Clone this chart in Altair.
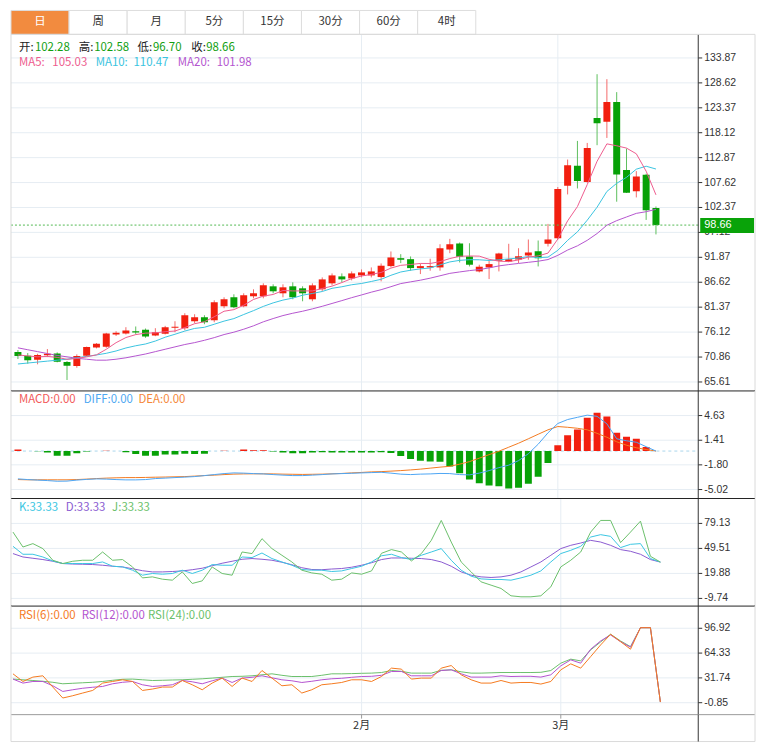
import altair as alt
import pandas as pd

# ---------------- data ----------------
tabs = ["日", "周", "月", "5分", "15分", "30分", "60分", "4时"]
month_pos = [35, 55]
month_labels = ["2月", "3月"]

opens = [71.91, 71.13, 70.29, 71.22, 71.63, 69.81, 68.97, 71.13, 72.89, 73.02,
         75.62, 75.83, 76.31, 76.59, 75.41, 75.75, 77.01, 76.94, 78.41, 79.25,
         78.62, 81.56, 83.45, 81.56, 83.66, 83.66, 85.76, 84.29, 85.76, 85.34,
         83.03, 85.13, 86.39, 87.85, 87.43, 88.06, 88.06, 87.71, 90.02, 91.69,
         91.48, 89.60, 89.74, 89.74, 93.52, 94.78, 92.05, 88.90, 89.74, 91.15,
         91.00, 91.42, 92.26, 93.16, 94.72, 95.89, 106.95, 111.15, 107.73, 121.22,
         120.44, 124.57, 110.25, 105.77, 109.26, 102.28]
highs = [72.33, 71.70, 71.55, 72.54, 71.84, 70.02, 71.42, 73.06, 73.80, 75.96,
         76.30, 77.15, 77.30, 76.87, 76.94, 77.43, 78.41, 80.09, 79.88, 79.67,
         82.82, 83.45, 84.08, 84.29, 85.13, 86.39, 86.18, 86.18, 86.60, 85.76,
         86.39, 87.64, 88.48, 88.48, 88.90, 89.32, 89.74, 90.58, 93.10, 92.53,
         92.05, 90.52, 91.57, 94.63, 95.76, 94.99, 94.84, 90.31, 91.21, 92.83,
         94.72, 93.79, 95.62, 95.41, 98.91, 106.68, 112.47, 116.39, 115.97, 130.45,
         129.40, 126.67, 114.77, 110.03, 109.47, 102.58]
lows = [70.44, 69.45, 69.33, 70.86, 69.75, 66.03, 68.61, 71.07, 72.68, 72.81,
        75.30, 75.62, 75.62, 74.91, 75.26, 75.62, 76.10, 76.52, 77.99, 77.78,
        78.20, 81.14, 81.14, 81.35, 83.24, 83.24, 84.29, 83.45, 83.03, 82.61,
        82.61, 84.71, 85.97, 86.60, 87.01, 87.64, 87.64, 86.81, 89.74, 90.65,
        89.05, 88.34, 89.05, 89.05, 92.74, 90.79, 89.95, 88.69, 87.29, 88.90,
        90.85, 90.65, 91.36, 89.95, 94.15, 95.62, 105.12, 106.38, 107.58, 115.49,
        117.02, 103.59, 105.43, 104.49, 99.75, 96.70]
closes = [71.07, 70.17, 71.28, 71.55, 69.87, 69.03, 71.07, 72.96, 73.65, 75.83,
          75.96, 76.46, 76.04, 75.20, 76.10, 77.15, 77.22, 79.67, 79.25, 78.20,
          82.40, 83.03, 81.35, 83.87, 84.29, 85.97, 84.71, 85.55, 83.45, 84.29,
          85.97, 87.22, 88.06, 87.22, 88.48, 88.69, 88.90, 90.10, 91.84, 91.36,
          89.60, 90.02, 90.02, 93.79, 94.63, 91.99, 90.31, 89.89, 90.44, 92.68,
          91.48, 92.11, 92.89, 91.69, 95.62, 106.26, 111.29, 107.94, 114.92, 120.11,
          124.57, 109.32, 105.49, 108.92, 101.77, 98.66]

ma5 = [71.30, 71.10, 70.90, 71.00, 70.79, 70.38, 70.56, 70.90, 71.32, 72.50,
       73.89, 74.97, 75.59, 75.90, 75.95, 76.19, 76.34, 77.07, 77.88, 78.30,
       79.35, 80.51, 80.85, 81.77, 82.99, 83.70, 84.04, 84.88, 84.79, 84.79,
       84.79, 85.30, 85.80, 86.55, 87.39, 87.93, 88.27, 88.68, 89.60, 90.18,
       90.36, 90.58, 90.57, 90.96, 91.61, 92.09, 92.15, 92.12, 91.45, 91.06,
       90.96, 91.32, 91.92, 92.17, 92.76, 95.71, 99.55, 102.56, 107.20, 112.10,
       115.77, 115.37, 114.88, 113.68, 110.01, 105.03]
ma10 = [69.40, 69.60, 69.80, 70.00, 70.20, 70.40, 70.70, 71.00, 71.30, 71.65,
        72.14, 72.77, 73.24, 73.61, 74.23, 75.04, 75.66, 76.33, 76.89, 77.13,
        77.77, 78.43, 78.96, 79.82, 80.64, 81.53, 82.27, 82.86, 83.28, 83.89,
        84.25, 84.67, 85.34, 85.67, 86.09, 86.36, 86.78, 87.24, 88.08, 88.78,
        89.15, 89.43, 89.62, 90.28, 90.90, 91.23, 91.37, 91.35, 91.21, 91.34,
        91.53, 91.73, 92.02, 91.81, 91.91, 93.34, 95.44, 97.24, 99.69, 102.43,
        105.74, 107.46, 108.72, 110.44, 111.06, 110.47]
ma20 = [72.80, 72.40, 72.00, 71.60, 71.20, 70.90, 70.60, 70.40, 70.20, 70.20,
        70.40, 70.70, 71.10, 71.50, 72.00, 72.50, 73.00, 73.50, 73.90, 74.39,
        74.95, 75.60, 76.10, 76.72, 77.44, 78.28, 78.97, 79.60, 80.09, 80.51,
        81.01, 81.55, 82.15, 82.75, 83.37, 83.94, 84.53, 85.05, 85.68, 86.34,
        86.70, 87.05, 87.48, 87.98, 88.49, 88.79, 89.07, 89.29, 89.64, 90.06,
        90.34, 90.58, 90.82, 91.05, 91.40, 92.28, 93.40, 94.29, 95.45, 96.88,
        98.63, 99.60, 100.37, 101.13, 101.48, 101.98]

diff = [-3.63, -3.72, -3.79, -3.85, -3.94, -3.92, -3.79, -3.70, -3.63, -3.66,
        -3.72, -3.76, -3.76, -3.72, -3.59, -3.53, -3.46, -3.40, -3.33, -3.20,
        -3.07, -2.94, -2.85, -2.88, -2.94, -2.98, -3.07, -3.14, -3.20, -3.20,
        -3.14, -3.07, -2.98, -2.94, -2.90, -2.85, -2.81, -2.77, -2.88, -3.01,
        -3.07, -3.01, -2.98, -2.92, -2.94, -3.07, -3.11, -2.88, -2.55, -2.16,
        -1.84, -1.25, -0.35, 0.89, 2.38, 3.59, 4.11, 4.40, 4.68, 4.53,
        3.55, 1.60, 1.34, 1.15, 0.57, 0.00]
dea = [-3.72, -3.75, -3.75, -3.75, -3.75, -3.75, -3.72, -3.66, -3.59, -3.53,
       -3.49, -3.46, -3.46, -3.44, -3.41, -3.39, -3.36, -3.33, -3.27, -3.20,
       -3.14, -3.07, -3.01, -2.98, -2.97, -2.97, -2.98, -3.01, -3.03, -3.05,
       -3.03, -3.01, -2.97, -2.92, -2.85, -2.79, -2.72, -2.68, -2.62, -2.55,
       -2.46, -2.36, -2.23, -2.10, -1.99, -1.71, -1.38, -0.93, -0.47, -0.02,
       0.50, 1.02, 1.60, 2.19, 2.77, 3.20, 3.10, 2.97, 2.77, 2.31,
       1.80, 1.21, 0.76, 0.43, 0.20, 0.00]
macd = [0.20, 0.02, -0.03, -0.20, -0.60, -0.60, -0.30, -0.05, 0.02, 0.05,
        0.02, -0.15, -0.40, -0.60, -0.60, -0.45, -0.45, -0.35, -0.40, -0.35,
        0.02, 0.05, 0.02, 0.20, 0.12, 0.12, -0.05, -0.20, -0.30, -0.30,
        -0.20, -0.15, -0.20, -0.20, -0.20, -0.20, -0.20, -0.15, -0.25, -0.65,
        -1.05, -1.28, -1.37, -1.40, -2.00, -2.90, -3.70, -4.20, -4.50, -4.60,
        -4.90, -4.80, -4.25, -3.35, -1.55, 0.75, 2.07, 2.80, 4.33, 4.98,
        4.50, 2.38, 1.86, 1.60, 0.52, 0.00]

k_vals = [51.99, 42.57, 42.57, 39.36, 34.64, 31.58, 31.58, 31.58, 31.58, 33.46,
          28.39, 27.57, 23.67, 17.77, 19.78, 18.95, 19.78, 23.67, 19.78, 23.67,
          30.40, 29.57, 29.57, 39.36, 38.66, 44.08, 37.48, 33.46, 29.57, 24.50,
          23.67, 23.67, 22.14, 22.84, 25.68, 28.39, 33.46, 40.78, 42.57, 38.66,
          36.30, 41.37, 45.26, 49.28, 35.47, 23.67, 16.59, 13.40, 12.70, 12.70,
          11.87, 14.58, 17.77, 22.84, 33.46, 43.38, 47.27, 51.99, 62.96, 65.80,
          63.79, 50.46, 54.35, 55.18, 37.48, 33.33]
d_vals = [43.38, 39.36, 37.83, 36.30, 34.29, 31.58, 30.99, 30.75, 30.40, 29.57,
          28.39, 27.57, 25.44, 23.08, 21.66, 21.66, 22.14, 22.84, 24.26, 26.03,
          28.98, 31.93, 34.29, 36.65, 37.48, 36.65, 35.47, 33.11, 30.16, 26.62,
          24.50, 24.26, 25.09, 25.68, 27.21, 29.57, 32.52, 36.30, 38.18, 38.18,
          37.83, 37.48, 36.30, 33.46, 28.39, 21.66, 17.77, 15.77, 15.06, 15.77,
          17.77, 21.66, 27.57, 33.46, 41.37, 49.28, 53.17, 55.89, 59.07, 57.06,
          53.17, 48.10, 46.09, 42.57, 36.30, 33.33]
j_vals = [68.86, 51.17, 55.18, 49.28, 35.47, 31.58, 34.29, 35.47, 35.47, 45.26,
          35.47, 36.30, 27.57, 14.58, 15.77, 13.05, 11.87, 21.66, 7.98, 11.04,
          27.57, 19.78, 17.77, 45.26, 43.38, 61.08, 49.28, 41.37, 33.46, 23.67,
          20.48, 18.95, 11.87, 13.05, 20.48, 18.95, 22.84, 43.73, 48.10, 45.26,
          34.64, 43.38, 59.07, 82.67, 57.06, 33.46, 21.66, 9.86, 5.97, 2.07,
          -6.66, -7.84, -7.84, -6.66, 3.96, 27.57, 35.47, 45.26, 68.86, 82.67,
          82.67, 56.36, 68.86, 81.84, 40.19, 33.33]

rsi6 = [37.10, 27.02, 32.78, 34.48, 19.69, 5.29, 8.31, 11.84, 15.24, 24.92,
        27.02, 29.24, 27.02, 15.24, 17.07, 19.69, 19.69, 28.33, 22.70, 16.15,
        24.92, 31.47, 20.47, 31.47, 27.02, 41.42, 31.47, 21.39, 22.70, 11.84,
        16.15, 22.70, 24.01, 25.71, 29.24, 29.24, 27.02, 33.56, 44.56, 43.25,
        30.16, 31.47, 31.47, 44.56, 47.96, 35.79, 29.24, 24.92, 24.92, 28.33,
        24.92, 25.71, 25.71, 23.62, 27.02, 42.33, 50.19, 44.56, 59.74, 75.06,
        89.07, 79.38, 69.43, 97.70, 97.70, 0.00]
rsi12 = [30.16, 24.92, 27.02, 27.02, 21.39, 13.93, 16.15, 18.12, 19.43, 20.47,
         24.01, 25.97, 27.02, 22.70, 20.47, 21.39, 22.70, 28.33, 26.62, 24.01,
         27.94, 31.47, 25.71, 31.47, 32.52, 34.48, 31.86, 29.24, 27.94, 25.71,
         27.28, 29.24, 30.55, 31.21, 32.52, 33.56, 33.83, 35.13, 40.11, 40.11,
         34.48, 34.48, 34.48, 41.42, 42.33, 37.10, 32.78, 32.78, 32.78, 34.48,
         33.56, 33.83, 33.83, 32.78, 35.79, 47.57, 55.42, 51.10, 69.43, 80.30,
         88.15, 79.38, 72.05, 97.70, 97.70, 0.00]
rsi24 = [30.16, 29.24, 28.33, 27.28, 25.97, 24.01, 24.66, 25.32, 25.97, 27.02,
         28.59, 29.90, 30.16, 29.24, 28.33, 28.59, 28.98, 29.24, 29.90, 30.55,
         31.47, 32.52, 33.56, 33.83, 34.48, 35.79, 37.10, 35.13, 33.56, 33.56,
         33.56, 35.13, 37.10, 37.10, 37.36, 37.75, 38.01, 38.80, 41.42, 40.37,
         38.01, 38.01, 38.01, 41.68, 42.33, 39.72, 38.01, 38.01, 38.41, 38.80,
         38.80, 38.80, 38.80, 39.06, 41.42, 51.10, 56.34, 54.12, 68.52, 78.99,
         89.07, 80.30, 72.83, 97.70, 97.70, 0.00]

price_ticks = [133.87, 128.62, 123.37, 118.12, 112.87, 107.62, 102.37, 97.12,
               91.87, 86.62, 81.37, 76.12, 70.86, 65.61]
macd_ticks = [4.63, 1.41, -1.80, -5.02]
kdj_ticks = [79.13, 49.51, 19.88, -9.74]
rsi_ticks = [96.92, 64.33, 31.74, -0.85]

main_range = [63.72, 138.84]
macd_range = [-6.19, 7.84]
kdj_range = [-18.83, 108.64]
rsi_range = [-16.56, 126.11]

# ---------------- styling ----------------
RED, GREEN = "#F21F0F", "#07A107"
RED_W, GREEN_W = "#F46A6A", "#5DBE5D"
GRID = "#E6EDF3"
BORDER = "#DADADA"
DARK = "#333333"
CJK = "Noto Sans CJK SC"
NUMF = "Liberation Sans"
W = 690
FULLW = 747

n = len(closes)
df = pd.DataFrame({
    "i": list(range(n)), "o": opens, "h": highs, "l": lows, "c": closes,
    "ma5": ma5, "ma10": ma10, "ma20": ma20,
    "diff": diff, "dea": dea, "macd": macd, "zero": [0.0] * n,
    "k": k_vals, "d": d_vals, "j": j_vals,
    "rsi6": rsi6, "rsi12": rsi12, "rsi24": rsi24,
})
mdf = pd.DataFrame({"p": month_pos, "lab": month_labels})
one = pd.DataFrame({"a": [0]})

XS = alt.Scale(domain=[-0.2, 68.8], nice=False, zero=False)


def yscale(r):
    return alt.Scale(domain=r, nice=False, zero=False)


def txt(s, x, y, color, size=11.5):
    return alt.Chart(one).mark_text(text=s, align="left", baseline="middle", color=color,
                                    fontSize=size, font=CJK).encode(
        x=alt.value(x), y=alt.value(y))


def hline(y, color, x1=0, x2=FULLW):
    return alt.Chart(one).mark_rule(color=color, strokeWidth=1).encode(
        x=alt.value(x1), x2=alt.value(x2), y=alt.value(y))


def vline(x, color, y1, y2):
    return alt.Chart(one).mark_rule(color=color, strokeWidth=1).encode(
        x=alt.value(x), y=alt.value(y1), y2=alt.value(y2))


def vgrid():
    return alt.Chart(mdf).mark_rule(color=GRID, strokeWidth=1).encode(
        x=alt.X("p:Q", scale=XS, axis=None))


def ticks_df(ticks):
    return pd.DataFrame({"v": ticks, "s": [f"{v:.2f}" for v in ticks]})


def hgrid(ticks, ys):
    return alt.Chart(ticks_df(ticks)).mark_rule(color=GRID, strokeWidth=1).encode(
        y=alt.Y("v:Q", scale=ys, axis=None), x=alt.value(0), x2=alt.value(W))


def yaxis_marks(ticks, ys, H):
    tdf = ticks_df(ticks)
    tick = alt.Chart(tdf).mark_rule(color=DARK, strokeWidth=1).encode(
        y=alt.Y("v:Q", scale=ys, axis=None), x=alt.value(W), x2=alt.value(W + 4))
    lab = alt.Chart(tdf).mark_text(align="left", baseline="middle", color=DARK,
                                   fontSize=10.5, font=NUMF).encode(
        y=alt.Y("v:Q", scale=ys, axis=None), x=alt.value(W + 6), text="s:N")
    return [tick, lab, vline(W, DARK, 0, H)]


def line(field, color, ys):
    return alt.Chart(df).mark_line(color=color, strokeWidth=1, clip=True).encode(
        x=alt.X("i:Q", scale=XS, axis=None),
        y=alt.Y(f"{field}:Q", scale=ys, axis=None))


# ---------------- tabs ----------------
tdf = pd.DataFrame({"t": tabs, "k": list(range(len(tabs)))})
TS = alt.Scale(domain=[0, W / 58.33], nice=False, zero=False)
tab_rects = alt.Chart(tdf).transform_calculate(k2="datum.k + 1").mark_rect(
    stroke="#DDDDDD", strokeWidth=1).encode(
    x=alt.X("k:Q", scale=TS, axis=None), x2="k2:Q",
    y=alt.value(0), y2=alt.value(24),
    fill=alt.condition("datum.k == 0", alt.value("#F28B3F"), alt.value("white")))
tab_text = alt.Chart(tdf).transform_calculate(km="datum.k + 0.5").mark_text(
    fontSize=11.5, font=CJK, baseline="middle").encode(
    x=alt.X("km:Q", scale=TS, axis=None), y=alt.value(12), text="t:N",
    color=alt.condition("datum.k == 0", alt.value("white"), alt.value(DARK)))
tabs_chart = alt.layer(tab_rects, tab_text).properties(width=W, height=24)

# ---------------- main panel ----------------
YM = yscale(main_range)
H_MAIN = 358
pdf = pd.DataFrame({"p": [closes[-1]], "t": [f"{closes[-1]:.2f}"]})
up = "datum.c >= datum.o"
wicks = alt.Chart(df).mark_rule(strokeWidth=1, clip=True).encode(
    x=alt.X("i:Q", scale=XS, axis=None),
    y=alt.Y("l:Q", scale=YM, axis=None), y2="h:Q",
    color=alt.condition(up, alt.value(RED_W), alt.value(GREEN_W)))
bodies = alt.Chart(df).mark_bar(size=7, clip=True).encode(
    x=alt.X("i:Q", scale=XS, axis=None),
    y=alt.Y("o:Q", scale=YM, axis=None), y2="c:Q",
    color=alt.condition(up, alt.value(RED), alt.value(GREEN)))
price_line = alt.Chart(pdf).mark_rule(color="#52B852", strokeDash=[2, 2], strokeWidth=1).encode(
    y=alt.Y("p:Q", scale=YM, axis=None), x=alt.value(0), x2=alt.value(W))
price_box = alt.Chart(pdf).mark_rect(color="#09A309", yOffset=-7, y2Offset=8).encode(
    x=alt.value(692), x2=alt.value(FULLW - 1), y=alt.Y("p:Q", scale=YM, axis=None), y2="p:Q")
price_txt = alt.Chart(pdf).mark_text(align="left", baseline="middle", color="white",
                                     fontSize=11, font=NUMF).encode(
    x=alt.value(696), y=alt.Y("p:Q", scale=YM, axis=None), text="t:N")

LBL = "#222222"
VAL = "#12A012"
main_legend = [
    txt("开:", 8, 14, LBL), txt(f"{opens[-1]:.2f}", 24, 14, VAL),
    txt("高:", 68, 14, LBL), txt(f"{highs[-1]:.2f}", 83.5, 14, VAL),
    txt("低:", 127, 14, LBL), txt(f"{lows[-1]:.2f}", 142.5, 14, VAL),
    txt("收:", 181, 14, LBL), txt(f"{closes[-1]:.2f}", 196, 14, VAL),
    txt("MA5:", 8, 29, "#EE5C8E"), txt(f"{ma5[-1]:.2f}", 41.5, 29, "#EE5C8E"),
    txt("MA10:", 85, 29, "#3AC4E0"), txt(f"{ma10[-1]:.2f}", 123, 29, "#3AC4E0"),
    txt("MA20:", 167.5, 29, "#B455CF"), txt(f"{ma20[-1]:.2f}", 206.5, 29, "#B455CF"),
]

main = alt.layer(
    hgrid(price_ticks, YM), vgrid(), wicks, bodies, price_line,
    line("ma20", "#B455CF", YM), line("ma10", "#3AC4E0", YM), line("ma5", "#EE5C8E", YM),
    *main_legend, *yaxis_marks(price_ticks, YM, H_MAIN), price_box, price_txt,
    hline(0, BORDER), vline(0, BORDER, 0, H_MAIN), vline(FULLW, BORDER, 0, H_MAIN),
).properties(width=W, height=H_MAIN)

# ---------------- MACD panel ----------------
YMA = yscale(macd_range)
H_MACD = 108
zero_line = alt.Chart(pd.DataFrame({"z": [0.0]})).mark_rule(
    color="#A9D6EC", strokeDash=[3, 3], strokeWidth=1).encode(
    y=alt.Y("z:Q", scale=YMA, axis=None), x=alt.value(0), x2=alt.value(W))
hist = alt.Chart(df).mark_bar(size=7, clip=True).encode(
    x=alt.X("i:Q", scale=XS, axis=None),
    y=alt.Y("macd:Q", scale=YMA, axis=None), y2="zero:Q",
    color=alt.condition("datum.macd >= 0", alt.value(RED), alt.value(GREEN)))
macd_chart = alt.layer(
    hgrid(macd_ticks, YMA), vgrid(), zero_line, hist,
    line("dea", "#F37A20", YMA), line("diff", "#4DA5F4", YMA),
    txt(f"MACD:{macd[-1]:.2f}", 8, 9, "#F25A5A"),
    txt(f"DIFF:{diff[-1]:.2f}", 73, 9, "#4EA8F2"),
    txt(f"DEA:{dea[-1]:.2f}", 128, 9, "#F5883A"),
    *yaxis_marks(macd_ticks, YMA, H_MACD),
    hline(0, "#222222"), vline(0, BORDER, 0, H_MACD), vline(FULLW, BORDER, 0, H_MACD),
).properties(width=W, height=H_MACD)

# ---------------- KDJ panel ----------------
YK = yscale(kdj_range)
H_KDJ = 108
kdj_chart = alt.layer(
    hgrid(kdj_ticks, YK), vgrid(),
    line("d", "#8A5BD1", YK), line("k", "#3AC6E2", YK), line("j", "#6BBF6B", YK),
    txt(f"K:{k_vals[-1]:.2f}", 8, 10, "#3AC6E2"),
    txt(f"D:{d_vals[-1]:.2f}", 55, 10, "#8A5BD1"),
    txt(f"J:{j_vals[-1]:.2f}", 101.5, 10, "#6BBF6B"),
    *yaxis_marks(kdj_ticks, YK, H_KDJ),
    hline(0, "#222222"), vline(0, BORDER, 0, H_KDJ), vline(FULLW, BORDER, 0, H_KDJ),
).properties(width=W, height=H_KDJ)

# ---------------- RSI panel ----------------
YR = yscale(rsi_range)
H_RSI = 109
BOTTOM = 136
xticks = alt.Chart(mdf).mark_rule(color="#999999", strokeWidth=1).encode(
    x=alt.X("p:Q", scale=XS, axis=None), y=alt.value(H_RSI), y2=alt.value(H_RSI + 4))
xlabels = alt.Chart(mdf).mark_text(baseline="middle", align="center", color=DARK,
                                   fontSize=11, font=CJK).encode(
    x=alt.X("p:Q", scale=XS, axis=None), y=alt.value(H_RSI + 11), text="lab:N")
rsi_chart = alt.layer(
    hgrid(rsi_ticks, YR), vgrid(),
    line("rsi24", "#6BBF6B", YR), line("rsi12", "#B352CF", YR), line("rsi6", "#F57A1E", YR),
    txt(f"RSI(6):{rsi6[-1]:.2f}", 8, 10, "#F57A1E"),
    txt(f"RSI(12):{rsi12[-1]:.2f}", 71, 10, "#B352CF"),
    txt(f"RSI(24):{rsi24[-1]:.2f}", 137.5, 10, "#6BBF6B"),
    *yaxis_marks(rsi_ticks, YR, H_RSI), xticks, xlabels,
    hline(0, "#222222"), hline(H_RSI, "#9A9A9A"), hline(BOTTOM, BORDER),
    vline(0, BORDER, 0, BOTTOM), vline(FULLW, BORDER, 0, BOTTOM),
    vline(W, DARK, H_RSI, BOTTOM),
).properties(width=W, height=H_RSI)

chart = alt.vconcat(
    tabs_chart, main, macd_chart, kdj_chart, rsi_chart, spacing=0, bounds="flush"
).properties(
    padding={"left": 2, "top": 0, "right": 2, "bottom": 0}
).configure_view(stroke=None)

chart.save("out.html", embed_options={"renderer": "svg", "actions": False})
